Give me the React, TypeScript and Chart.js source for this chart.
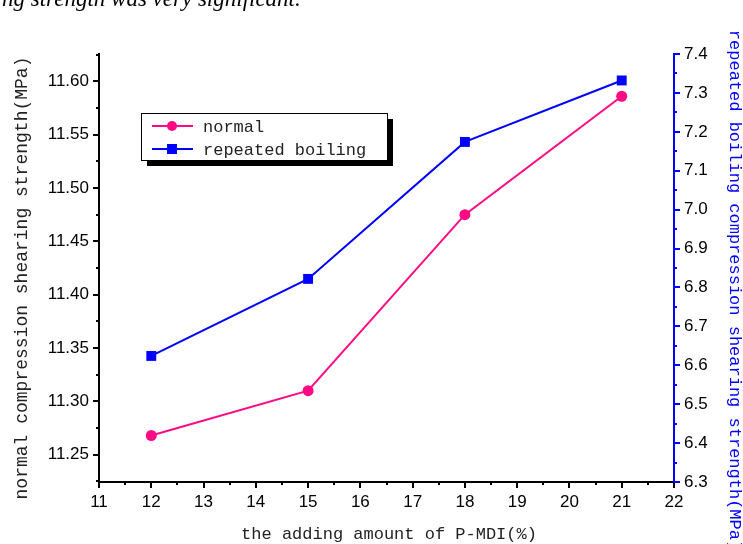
import React, { useEffect, useRef } from "react";
import { Chart, registerables } from "chart.js";

Chart.register(...registerables);

// ---- data ----
const categories = [12, 15, 18, 21];
const normalValues = [11.268, 11.31, 11.475, 11.586];
const boilingValues = [6.624, 6.822, 7.174, 7.332];
const seriesLabels = ["normal", "repeated boiling"];
const xTicks = [11, 12, 13, 14, 15, 16, 17, 18, 19, 20, 21, 22];
const leftTicks = [11.25, 11.3, 11.35, 11.4, 11.45, 11.5, 11.55, 11.6];
const rightTicks = [6.3, 6.4, 6.5, 6.6, 6.7, 6.8, 6.9, 7.0, 7.1, 7.2, 7.3, 7.4];
const xTitle = "the adding amount of P-MDI(%)";
const leftTitle = "normal compression shearing strength(MPa)";
const rightTitle = "repeated boiling compression shearing strength(MPa)";
const captionText = "ng strength was very significant.";

const PINK = "#ff0a84";
const BLUE = "#0000ff";
const MONO = "'Liberation Mono', monospace";
const SANS = "'Liberation Sans', Arial, sans-serif";

const decorPlugin = {
  id: "decor",
  afterDraw(chart: any) {
    const ctx = chart.ctx as CanvasRenderingContext2D;
    const { chartArea } = chart;
    const xs = chart.scales.x;
    const yl = chart.scales.y;
    const yr = chart.scales.y2;
    ctx.save();
    // minor ticks
    ctx.lineWidth = 2;
    ctx.strokeStyle = "#000";
    ctx.beginPath();
    for (let i = 0; i < xTicks.length - 1; i++) {
      const px = Math.round(xs.getPixelForValue((xTicks[i] + xTicks[i + 1]) / 2));
      ctx.moveTo(px, chartArea.bottom);
      ctx.lineTo(px, chartArea.bottom + 3);
    }
    const lstep = leftTicks[1] - leftTicks[0];
    const lMinor = [leftTicks[0] - lstep / 2, ...leftTicks.map((v) => v + lstep / 2)];
    lMinor.forEach((v) => {
      if (v < yl.min || v > yl.max) return;
      const py = Math.round(yl.getPixelForValue(v));
      ctx.moveTo(chartArea.left, py);
      ctx.lineTo(chartArea.left - 3, py);
    });
    ctx.stroke();
    ctx.strokeStyle = BLUE;
    ctx.beginPath();
    for (let i = 0; i < rightTicks.length - 1; i++) {
      const py = Math.round(yr.getPixelForValue((rightTicks[i] + rightTicks[i + 1]) / 2));
      ctx.moveTo(chartArea.right, py);
      ctx.lineTo(chartArea.right + 3, py);
    }
    ctx.stroke();

    // axis titles
    ctx.textAlign = "center";
    ctx.textBaseline = "middle";
    ctx.fillStyle = "#222";
    ctx.font = `17px ${MONO}`;
    ctx.fillText(xTitle, 389, 534);
    ctx.save();
    ctx.font = `18px ${MONO}`;
    ctx.translate(22, 278);
    ctx.rotate(-Math.PI / 2);
    ctx.fillText(leftTitle, 0, 0);
    ctx.restore();
    ctx.save();
    ctx.font = `17px ${MONO}`;
    ctx.translate(734, 290);
    ctx.rotate(Math.PI / 2);
    ctx.fillStyle = BLUE;
    ctx.fillText(rightTitle, 0, 0);
    ctx.restore();

    // legend
    ctx.font = `17px ${MONO}`;
    const bx = 141, by = 113, bw = 246, bh = 47;
    ctx.fillStyle = "#000";
    ctx.fillRect(bx + 6, by + 6, bw, bh);
    ctx.fillStyle = "#fff";
    ctx.fillRect(bx, by, bw, bh);
    ctx.lineWidth = 1;
    ctx.strokeStyle = "#000";
    ctx.strokeRect(bx + 0.5, by + 0.5, bw, bh);
    const rows = [
      { color: PINK, style: "circle", y: 126 },
      { color: BLUE, style: "rect", y: 149 },
    ];
    rows.forEach((r, i) => {
      ctx.strokeStyle = r.color;
      ctx.lineWidth = 2;
      ctx.beginPath();
      ctx.moveTo(152, r.y);
      ctx.lineTo(193, r.y);
      ctx.stroke();
      ctx.fillStyle = r.color;
      if (r.style === "circle") {
        ctx.beginPath();
        ctx.arc(172, r.y, 5, 0, Math.PI * 2);
        ctx.fill();
      } else {
        ctx.fillRect(167, r.y - 5, 10, 10);
      }
      ctx.fillStyle = "#222";
      ctx.textAlign = "left";
      ctx.fillText(seriesLabels[i], 203, r.y + 1);
    });
    ctx.restore();
  },
};

export default function App() {
  const ref = useRef<HTMLCanvasElement>(null);
  useEffect(() => {
    if (!ref.current) return;
    const tickFont = { family: SANS, size: 17 };
    const chart = new Chart(ref.current, {
      type: "line",
      data: {
        datasets: [
          {
            label: seriesLabels[0],
            data: categories.map((c, i) => ({ x: c, y: normalValues[i] })),
            borderColor: PINK,
            backgroundColor: PINK,
            borderWidth: 2,
            pointStyle: "circle",
            pointRadius: 5.5,
            pointBorderWidth: 0,
            yAxisID: "y",
          },
          {
            label: seriesLabels[1],
            data: categories.map((c, i) => ({ x: c, y: boilingValues[i] })),
            borderColor: BLUE,
            backgroundColor: BLUE,
            borderWidth: 2,
            pointStyle: "rect",
            pointRadius: 7,
            pointBorderWidth: 0,
            yAxisID: "y2",
          },
        ],
      },
      plugins: [decorPlugin],
      options: {
        responsive: false,
        animation: false,
        layout: { padding: { top: 54, left: 0, right: 0, bottom: 0 } },
        plugins: { legend: { display: false }, tooltip: { enabled: false } },
        scales: {
          x: {
            type: "linear",
            min: 11,
            max: 22,
            afterBuildTicks: (s: any) => {
              s.ticks = xTicks.map((v) => ({ value: v }));
            },
            afterFit: (s: any) => {
              s.height = 62;
            },
            grid: { drawOnChartArea: false, drawTicks: true, tickLength: 6, color: "#000", lineWidth: 2 },
            border: { display: true, color: "#000", width: 2 },
            ticks: {
              font: tickFont,
              color: "#000",
              padding: 4,
              autoSkip: false,
              maxRotation: 0,
              callback: (v: any) => String(v),
            },
          },
          y: {
            type: "linear",
            position: "left",
            min: 11.2244,
            max: 11.6256,
            afterBuildTicks: (s: any) => {
              s.ticks = leftTicks.map((v) => ({ value: v }));
            },
            afterFit: (s: any) => {
              s.width = 99;
            },
            grid: { drawOnChartArea: false, drawTicks: true, tickLength: 6, color: "#000", lineWidth: 2 },
            border: { display: true, color: "#000", width: 2 },
            ticks: {
              font: tickFont,
              color: "#000",
              padding: 4,
              autoSkip: false,
              callback: (v: any) => Number(v).toFixed(2),
            },
          },
          y2: {
            type: "linear",
            position: "right",
            min: 6.3,
            max: 7.4,
            afterBuildTicks: (s: any) => {
              s.ticks = rightTicks.map((v) => ({ value: v }));
            },
            afterFit: (s: any) => {
              s.width = 69;
            },
            grid: { drawOnChartArea: false, drawTicks: true, tickLength: 6, color: BLUE, lineWidth: 2 },
            border: { display: true, color: BLUE, width: 2 },
            ticks: {
              font: tickFont,
              color: "#000",
              padding: 4,
              autoSkip: false,
              callback: (v: any) => Number(v).toFixed(1),
            },
          },
        },
      },
    } as any);
    return () => chart.destroy();
  }, []);

  return (
    <div style={{ position: "fixed", left: 0, top: 0, width: 743, height: 544, background: "#fff", overflow: "hidden" }}>
      <canvas ref={ref} width={743} height={544} style={{ position: "absolute", left: 0, top: 0, width: 743, height: 544 }} />
      <div
        style={{
          position: "absolute",
          left: 2,
          top: -15,
          fontFamily: "'Liberation Serif', 'Times New Roman', serif",
          fontStyle: "italic",
          fontSize: 23,
          whiteSpace: "nowrap",
          color: "#000",
          lineHeight: "28px",
        }}
      >
        {captionText}
      </div>
    </div>
  );
}
